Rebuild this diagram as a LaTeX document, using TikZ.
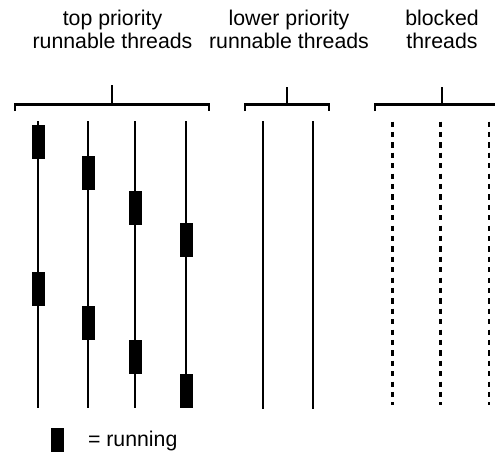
\documentclass[tikz,border=0pt]{standalone}
\usepackage{fontspec}
\setmainfont{Liberation Sans}
\begin{document}
\begin{tikzpicture}[x=1pt,y=-1pt,
  every node/.style={inner sep=0pt, outer sep=0pt},
  heading/.style={align=center, font=\fontsize{21.3}{23.3}\selectfont, anchor=base},
  thread/.style={line width=2.4pt},
  blockedthread/.style={line width=2.4pt, dash pattern=on 5.3pt off 5.1pt},
  bracketline/.style={line width=2.2pt},
  runbox/.style={fill=black, draw=none, minimum width=13pt, minimum height=34pt}
]
\useasboundingbox (0,0) rectangle (495,459);

% group headings (anchored at the baseline of their last line)
\node[heading] (hTop) at (112.5,48.3) {top priority\\runnable threads};
\node[heading] (hLow) at (289,48.3) {lower priority\\runnable threads};
\node[heading] (hBlk) at (442,48.3) {blocked\\threads};

% brackets over each group
\coordinate (sTop) at (112,85);
\coordinate (sLow) at (287,87);
\coordinate (sBlk) at (442,87);
\draw[bracketline] (15,111) -- (15,104.5) -- (209,104.5) -- (209,111);
\draw[bracketline] (sTop) -- (112,104.5);
\draw[bracketline] (245,111) -- (245,104.5) -- (329,104.5) -- (329,111);
\draw[bracketline] (sLow) -- (287,104.5);
\draw[bracketline] (375,111) -- (375,104.5) -- (496,104.5);
\draw[bracketline] (sBlk) -- (442,104.5);

% top priority threads
\foreach \n/\x in {1/38,2/88,3/135,4/186}{
  \coordinate (t\n a) at (\x,121);
  \coordinate (t\n b) at (\x,408);
  \draw[thread] (t\n a) -- (t\n b);
}
% running slices
\node[runbox] (r1a) at (38,142) {};
\node[runbox] (r1b) at (38,289) {};
\node[runbox] (r2a) at (88,173) {};
\node[runbox] (r2b) at (88,323) {};
\node[runbox] (r3a) at (135,208) {};
\node[runbox] (r3b) at (135,357) {};
\node[runbox] (r4a) at (186,240) {};
\node[runbox] (r4b) at (186,391) {};

% lower priority threads
\foreach \n/\x in {1/263,2/312.7}{
  \coordinate (l\n a) at (\x,121);
  \coordinate (l\n b) at (\x,409);
  \draw[thread] (l\n a) -- (l\n b);
}

% blocked threads
\foreach \n/\x in {1/392.3,2/440.3,3/488.7}{
  \coordinate (b\n a) at (\x,121.5);
  \coordinate (b\n b) at (\x,405);
  \draw[blockedthread] (b\n a) -- (b\n b);
}

% legend
\node[runbox, minimum height=24pt] (key) at (57,439.7) {};
\node[heading, anchor=base west] (keytext) at (88,446) {= running};
\end{tikzpicture}
\end{document}
